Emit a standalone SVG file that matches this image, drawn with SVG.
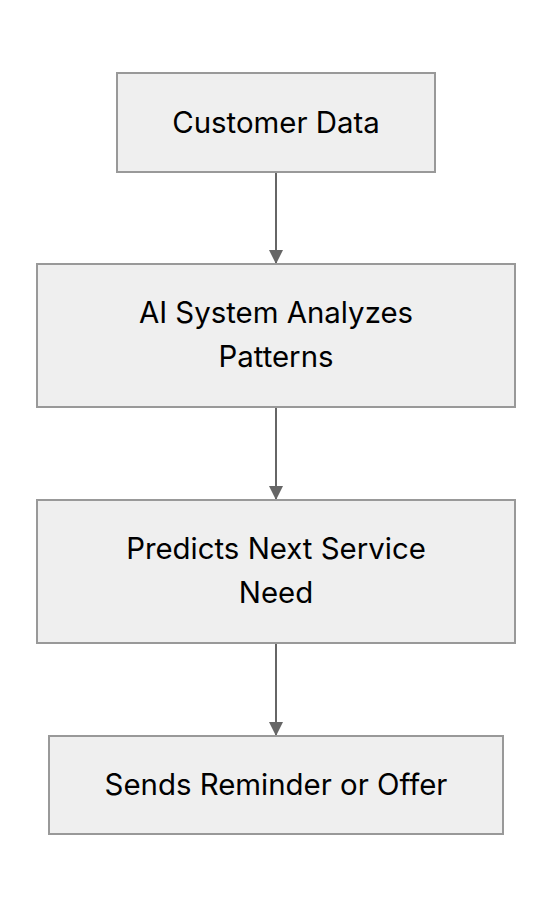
<svg xmlns="http://www.w3.org/2000/svg" width="552" height="908" viewBox="0 0 552 908">
<style>
.node rect{fill:#efefef;stroke:#999999;stroke-width:2}
.node text{font-family:Inter,"Noto Sans",sans-serif;font-size:29.4px;fill:#000;text-anchor:middle}
.edge{stroke:#666666;stroke-width:2;fill:none}
</style>
<defs>
<marker id="arr" markerWidth="14" markerHeight="14" refX="14" refY="7" orient="auto" markerUnits="userSpaceOnUse">
<path d="M0,0 L14,7 L0,14 Z" fill="#666666"/>
</marker>
</defs>
<rect width="552" height="908" fill="#ffffff"/>
<g id="connectors">
<line class="edge" x1="276" y1="173" x2="276" y2="264" marker-end="url(#arr)"/>
<line class="edge" x1="276" y1="408" x2="276" y2="500" marker-end="url(#arr)"/>
<line class="edge" x1="276" y1="643" x2="276" y2="736" marker-end="url(#arr)"/>
</g>
<g id="customer-data" class="node">
<rect x="117" y="73" width="318" height="99"/>
<text x="276" y="133">Customer Data</text>
</g>
<g id="ai-system" class="node">
<rect x="37" y="264" width="478" height="143"/>
<text x="276" y="323">AI System Analyzes</text>
<text x="276" y="367">Patterns</text>
</g>
<g id="predicts" class="node">
<rect x="37" y="500" width="478" height="143"/>
<text x="276" y="559">Predicts Next Service</text>
<text x="276" y="603">Need</text>
</g>
<g id="sends" class="node">
<rect x="49" y="736" width="454" height="98"/>
<text x="276" y="795">Sends Reminder or Offer</text>
</g>
</svg>
